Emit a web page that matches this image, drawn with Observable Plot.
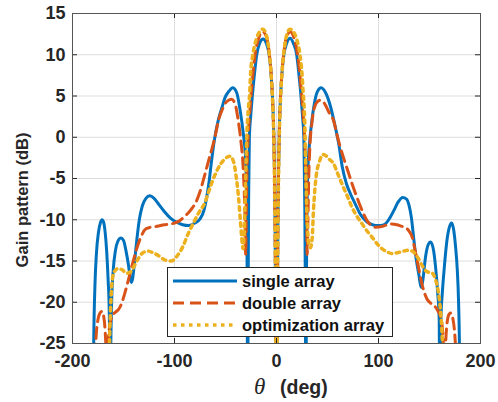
<!DOCTYPE html>
<html><head><meta charset="utf-8">
<script src="https://cdn.jsdelivr.net/npm/d3@7"></script>
<script src="https://cdn.jsdelivr.net/npm/@observablehq/plot@0.6"></script>
<style>html,body{margin:0;padding:0;background:#fff;}</style>
</head><body><div id="chart"></div>
<script>
const xTicks = [-200, -100, 0, 100, 200];
const yTicks = [-25, -20, -15, -10, -5, 0, 5, 10, 15];
const seriesNames = ["single array", "double array", "optimization array"];
const seriesColors = ["#0072BD", "#D95319", "#EDB120"];

const singleTheta = [-180,-179.2,-178,-176.5,-174.5,-172.5,-171,-169.5,-168,-166.5,-165,-164,-163.5,-163,-162.5,-161.5,-160,-158,-155.5,-152.5,-150,-147.5,-145,-143.5,-142.2,-141,-139.5,-137,-134.5,-131.5,-128,-124.2,-120,-115,-110,-104,-98,-92,-86,-80,-75,-71,-68.5,-66,-64,-61,-57,-53,-50.5,-46.5,-43,-39,-35.7,-32.5,-30.2,-29.3,-28.7,-28.3,-27.8,-27.2,-26.6,-25.2,-23.7,-21.5,-19.4,-16.5,-13.2,-10,-7.2,-5.5,-4,-2.8,-2,-1.3,-0.7,0,0.7,1.3,2,2.8,4,5.5,7.2,10,13.3,16.5,19.8,22,24,25.5,26.8,27.6,28.3,28.8,29.3,29.9,30.8,32.3,34.5,37,40,43.8,48.5,53,57,61,64.5,68.5,73,77.3,82,87.3,92,97,102,106.7,111,115,119,123.8,127.5,130,132.3,134.3,137,139.5,141.8,143.5,146,148.5,151,153.5,156,158,159.5,160.3,161.2,162.5,164.5,167,169.5,171.8,173.8,175.5,177.2,178.5,179.4,180];
const singleGain = [-45,-25,-18,-14,-11.5,-10.3,-10,-10.3,-11.5,-13.8,-17.5,-21,-26,-45,-26,-19.5,-16,-13.8,-12.6,-12.2,-12.5,-13.8,-15.6,-17,-17.6,-17.1,-15.5,-12.5,-10,-8.3,-7.4,-7.1,-7.4,-8.2,-9,-9.8,-10.3,-10.6,-10.7,-10.4,-9.9,-8.8,-7.3,-5.3,-3.2,-0.4,2.1,3.8,4.8,5.6,6,5.4,3.3,0.4,-2.8,-8,-18,-45,-18,-6,0,2.7,5,7.8,10,11.4,11.9,11.4,10,8,5,1,-4,-12,-25,-45,-25,-12,-4,1,5,8,10,11.4,12,11.4,10,7.6,5,2.6,0,-7,-18,-45,-18,-9,-4,-0.8,1.8,4,5.5,6,5.3,3.7,1.6,-0.8,-3.6,-5.6,-7,-8.1,-9.3,-10.1,-10.5,-10.7,-10.7,-10.5,-9.8,-8.9,-7.9,-7.3,-7.5,-8.3,-9.8,-12,-14.8,-16.6,-18.2,-17.3,-14.6,-13.1,-12.7,-13.4,-15.8,-18.8,-22,-45,-22,-19,-15.8,-12.6,-10.9,-10.4,-11.3,-13.2,-16,-20,-26,-45];

const doubleTheta = [-180,-178.3,-177,-175.3,-173,-171,-169.3,-168,-167,-166.3,-165.5,-164,-161.5,-158,-155,-152,-148.5,-145,-141.5,-137.5,-133,-128,-123,-117,-110,-103,-96,-90,-84,-78,-74,-70,-66.5,-63.3,-60,-57,-53,-49,-44,-40.5,-37.5,-34.8,-32.8,-31.6,-30.8,-30.2,-29.6,-28.9,-27.8,-26.2,-25,-23,-21,-17.5,-13.5,-10,-7.2,-5.3,-3.8,-2.7,-1.8,-1.1,-0.5,0,0.5,1.1,1.8,2.7,3.8,5.3,7.2,10,13.5,17,20.7,22.8,24.7,26,27.6,28.7,29.4,30.1,30.8,31.6,33,34.5,36.5,40,43.2,47,51.5,56,59.5,62.5,66,70,74.5,78.9,84,88.7,93,97,104,111.6,118,123,126.3,130,133,136,139.3,143,147.5,151,154.5,158,161,162.8,164,164.7,165.5,167,169,171,172.8,174.3,175.8,177.5,180];
const doubleGain = [-45,-30,-24.5,-22.3,-21.3,-21.1,-21.8,-23.5,-26.5,-40,-26.5,-23.3,-21.8,-21.2,-20.9,-20.2,-18.8,-17.2,-15.5,-13.7,-12.1,-11.1,-10.9,-10.8,-10.6,-10.5,-10.2,-9.6,-8.8,-7.6,-6.2,-4.4,-2.8,-1.4,0.2,2,3.4,4.3,4.6,4,2,-0.6,-3.4,-6.7,-10,-14.2,-9,-4,0,3,5,7.8,10,12,12.8,12.2,10.3,7.8,4.5,0.5,-6,-15,-28,-45,-28,-15,-6,0.5,4.5,7.8,10.3,12.2,12.8,12.1,10,7.8,5,3,0,-4,-9,-14.2,-10,-5,-0.5,1.5,3.3,4.3,4.5,4.1,3,2,0.2,-1.2,-2.6,-4.1,-5.8,-7.3,-8.9,-10.1,-10.7,-10.9,-10.8,-10.5,-10.6,-10.8,-10.9,-11.4,-12.1,-13.8,-15.8,-18,-19.6,-20.1,-20.4,-21,-21.8,-23.5,-26.5,-40,-26.5,-22.8,-21.5,-21.3,-21.9,-23.2,-26,-32,-45];

const optTheta = [-180,-170,-166,-164.3,-163.3,-162.2,-160.7,-158.5,-155,-151,-147,-143,-139,-135,-131,-126,-121,-115,-109,-103,-97.5,-92,-87,-81.5,-76,-70.5,-64,-59,-54.5,-49.5,-45.5,-42,-39.5,-37.3,-35.5,-34,-32.8,-31.6,-30.6,-29.7,-29,-27.8,-26.3,-25.4,-23.2,-20,-16.5,-13.3,-10,-7.5,-5.5,-4,-2.9,-2,-1.2,-0.5,0,0.5,1.2,2,2.9,4,5.5,7.5,10,13.3,16.5,20,23,25,26.2,27.3,28,28.6,29.3,30.4,31.8,33.3,35,36.2,37.5,39,42,45.5,48,52,56,60,65,70,74,79,84,89,93.6,98.5,103.3,108.5,113.3,118.5,124.5,129,133,136.5,139.5,143,146.5,150,153,156,158.5,160.5,162,163.3,165,170,180];
const optGain = [-45,-42,-35,-28,-23,-19.5,-17,-16.2,-15.9,-16.1,-16.5,-16.3,-15.5,-14.6,-14,-13.8,-14,-14.4,-14.9,-15,-14.4,-13.3,-11.8,-10.4,-9.1,-8,-5.7,-4.2,-3.2,-2.5,-2.3,-3,-4.8,-7.2,-10,-12.3,-13.5,-11.5,-7,-2.5,0.5,3.2,5.3,7.7,10,11.8,12.8,13.1,12.4,10.6,8,4.8,1,-5,-14,-28,-45,-28,-14,-5,1,4.8,8,10.6,12.4,13.1,12.8,11.8,10,7.7,5.3,3.2,0.5,-3,-7,-11,-13,-13.4,-12.2,-9,-6.5,-4.6,-3,-2.1,-2.2,-2.7,-3.2,-4.4,-5.9,-7.3,-8.5,-9.6,-10.5,-11.4,-12.1,-12.9,-13.5,-13.9,-14.1,-14,-13.8,-13.7,-13.8,-14.2,-14.8,-15.6,-16.2,-16.4,-16.5,-17.3,-18.6,-20.6,-23,-27,-35,-42,-45];

const rows = (th, g, s) => th.map((t, i) => ({theta: t, gain: g[i], series: s}));
const singleData = rows(singleTheta, singleGain, seriesNames[0]);
const doubleData = rows(doubleTheta, doubleGain, seriesNames[1]);
const optData = rows(optTheta, optGain, seriesNames[2]);

const W = 498, H = 402, mL = 72, mR = 18, mT = 13, mB = 59;
const fw = W - mL - mR, fh = H - mT - mB;
const font = '"Liberation Sans", Arial, Helvetica, sans-serif';
const axisColor = "#262626";
const fmt = d => String(d);

const chart = Plot.plot({
  width: W, height: H,
  marginLeft: mL, marginRight: mR, marginTop: mT, marginBottom: mB,
  style: {fontFamily: font, fontSize: "18px", fontWeight: "bold", color: axisColor, background: "#fff", overflow: "visible"},
  x: {domain: [-200, 200]},
  y: {domain: [-25, 15]},
  marks: [
    Plot.gridX(xTicks, {stroke: "#dedede", strokeOpacity: 1}),
    Plot.gridY(yTicks, {stroke: "#dedede", strokeOpacity: 1}),
    Plot.line(singleData, {x: "theta", y: "gain", stroke: seriesColors[0], strokeWidth: 3, curve: "monotone-x", clip: true}),
    Plot.line(doubleData, {x: "theta", y: "gain", stroke: seriesColors[1], strokeWidth: 3, strokeDasharray: "11,6", curve: "monotone-x", clip: true}),
    Plot.line(optData, {x: "theta", y: "gain", stroke: seriesColors[2], strokeWidth: 3.5, strokeDasharray: "3.5,4.5", curve: "monotone-x", clip: true}),
    Plot.tickX(xTicks, {x: d => d, insetTop: fh - 5, stroke: axisColor}),
    Plot.tickX(xTicks, {x: d => d, insetBottom: fh - 5, stroke: axisColor}),
    Plot.tickY(yTicks, {y: d => d, insetRight: fw - 5, stroke: axisColor}),
    Plot.tickY(yTicks, {y: d => d, insetLeft: fw - 5, stroke: axisColor}),
    Plot.frame({stroke: "#555"}),
    Plot.axisX({ticks: xTicks, tickSize: 0, tickPadding: 11, tickFormat: fmt, label: null, fontSize: 18, fontWeight: "bold"}),
    Plot.axisY({ticks: yTicks, tickSize: 0, tickPadding: 7, tickFormat: fmt, label: null, fontSize: 18, fontWeight: "bold"})
  ]
});
document.getElementById("chart").appendChild(chart);

const svg = d3.select(chart);
// y-axis label
svg.append("text")
  .attr("transform", "translate(22,200) rotate(-90)")
  .attr("text-anchor", "middle").attr("dominant-baseline", "central")
  .attr("font-family", font).attr("font-weight", "bold").attr("font-size", 16.5)
  .attr("fill", axisColor).text("Gain pattern (dB)");
// x-axis label
const xl = svg.append("text").attr("y", 394).attr("fill", axisColor).attr("text-anchor", "start");
xl.append("tspan").attr("x", 254).attr("font-family", '"Liberation Serif", "Times New Roman", serif')
  .attr("font-style", "italic").attr("font-weight", "normal").attr("font-size", 23).text("θ");
xl.append("tspan").attr("x", 280).attr("font-family", font).attr("font-weight", "bold")
  .attr("font-size", 19.5).text("(deg)");

// legend
const lg = svg.append("g").attr("text-anchor", "start");
lg.append("rect").attr("x", 167.5).attr("y", 267.5).attr("width", 225).attr("height", 69)
  .attr("fill", "#fff").attr("stroke", axisColor).attr("stroke-width", 1);
const dashes = [null, "11,6", "3.5,4.5"];
const widths = [3, 3, 3.5];
seriesNames.forEach((name, i) => {
  const yy = 281 + i * 22;
  lg.append("line").attr("x1", 173).attr("x2", 237).attr("y1", yy).attr("y2", yy)
    .attr("stroke", seriesColors[i]).attr("stroke-width", widths[i])
    .attr("stroke-dasharray", dashes[i]);
  lg.append("text").attr("x", 242).attr("y", yy).attr("dominant-baseline", "central")
    .attr("text-anchor", "start")
    .attr("font-family", font).attr("font-weight", "bold").attr("font-size", 16.5)
    .attr("fill", "#111").text(name);
});
</script>
</body></html>
